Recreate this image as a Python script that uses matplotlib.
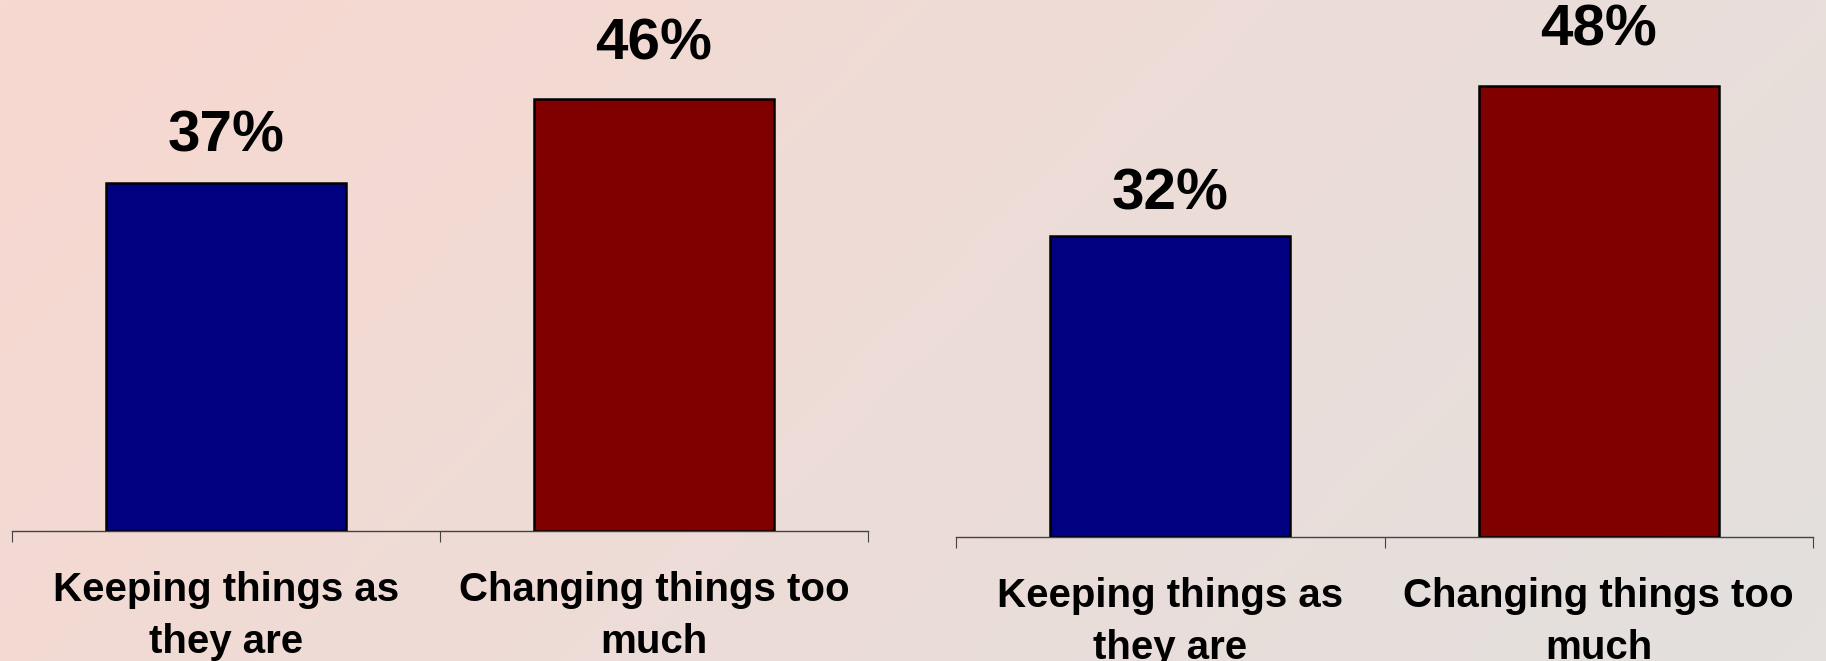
import numpy as np
import matplotlib
matplotlib.use("Agg")
import matplotlib.pyplot as plt

categories = ["Keeping things as\nthey are", "Changing things too\nmuch"]
left_values = [37, 46]
right_values = [32, 48]
bar_colors = ["#000080", "#800000"]

plt.rcParams["font.family"] = ["Liberation Sans", "DejaVu Sans"]

W, H, DPI = 1826, 661, 100
fig = plt.figure(figsize=(W / DPI, H / DPI), dpi=DPI)

# diagonal background gradient, pink top-left to light grey bottom-right
bg = fig.add_axes([0, 0, 1, 1], zorder=-10)
xx, yy = np.meshgrid(np.linspace(0, 1, 400), np.linspace(0, 1, 150))
t = np.clip(0.75 * xx + 0.27 * yy, 0, 1)[..., None]
c0 = np.array([248, 216, 208]) / 255
c1 = np.array([227, 224, 222]) / 255
bg.imshow(c0 + (c1 - c0) * t, aspect="auto", extent=[0, 1, 0, 1], origin="upper")
bg.axis("off")

px_per_pct = 9.40


def panel(rect_px, values):
    x0, x1, base = rect_px
    ax = fig.add_axes([x0 / W, (H - base) / H, (x1 - x0) / W, base / H])
    ax.patch.set_alpha(0)
    xs = np.arange(len(values))
    ax.bar(xs, values, width=0.56, color=bar_colors, edgecolor="black",
           linewidth=1.8, zorder=3)
    for x, v in zip(xs, values):
        ax.text(x, v * 1.09, f"{v}%", ha="center", va="baseline",
                fontsize=42, fontweight="bold", color="black")
    ax.set_xlim(-0.5, len(values) - 0.5)
    ax.set_ylim(0, base / px_per_pct)
    for s in ["top", "right", "left"]:
        ax.spines[s].set_visible(False)
    ax.spines["bottom"].set_color("#444444")
    ax.spines["bottom"].set_linewidth(1.0)
    ax.set_yticks([])
    ax.set_xticks(np.arange(len(values) + 1) - 0.5)
    ax.set_xticklabels([])
    ax.tick_params(axis="x", which="major", length=8, width=0.8, color="#444444")
    ax.set_xticks(xs, minor=True)
    ax.set_xticklabels(categories, minor=True, fontsize=29, fontweight="bold",
                       linespacing=1.45)
    ax.tick_params(axis="x", which="minor", length=0, pad=29)
    return ax


panel((12, 868, 531), left_values)
panel((956, 1813, 537), right_values)

fig.savefig("out.png", dpi=DPI)
